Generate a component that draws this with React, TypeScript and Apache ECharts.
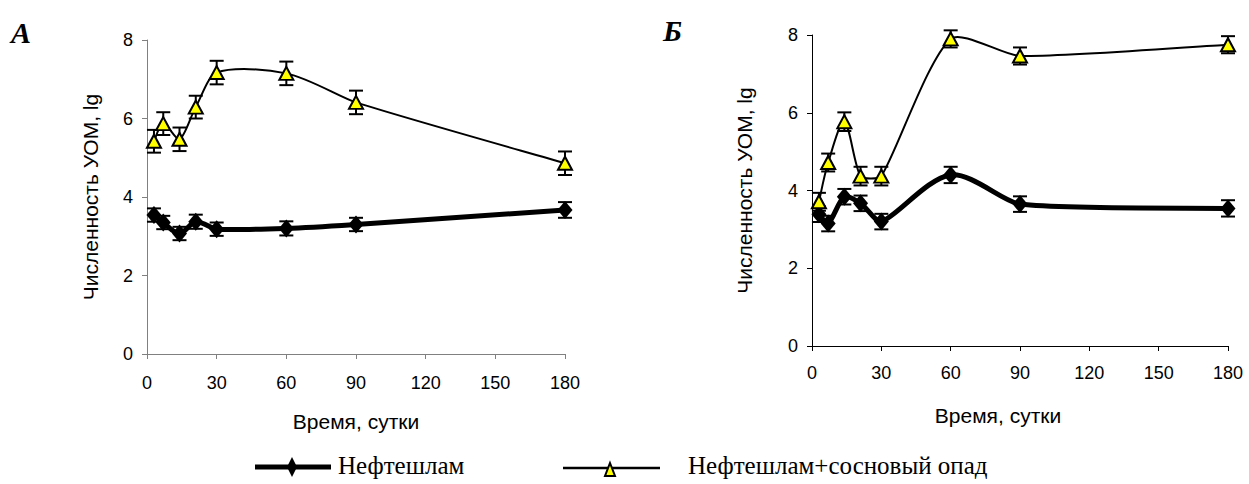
import React, { useEffect, useRef } from "react";
import * as echarts from "echarts";

// Sampling days
const days = [3, 7, 14, 21, 30, 60, 90, 180];
const xTicks = [0, 30, 60, 90, 120, 150, 180];
const yTicks = [0, 2, 4, 6, 8];

// Panel А
const oilA = [3.54, 3.35, 3.07, 3.37, 3.18, 3.2, 3.3, 3.67];
const oilAErr = [0.17, 0.17, 0.17, 0.18, 0.17, 0.18, 0.17, 0.2];
const pineA = [5.42, 5.87, 5.47, 6.29, 7.17, 7.15, 6.41, 4.86];
const pineAErr = [0.29, 0.29, 0.3, 0.29, 0.3, 0.3, 0.3, 0.3];

// Panel Б
const oilB = [3.39, 3.15, 3.84, 3.67, 3.2, 4.4, 3.65, 3.54];
const oilBErr = [0.2, 0.2, 0.2, 0.2, 0.2, 0.21, 0.2, 0.21];
const pineB = [3.71, 4.72, 5.77, 4.37, 4.37, 7.9, 7.46, 7.75];
const pineBErr = [0.23, 0.23, 0.24, 0.24, 0.24, 0.22, 0.22, 0.22];

const seriesNames = ["Нефтешлам", "Нефтешлам+сосновый опад"];
const yName = "Численность УОМ, lg";
const xName = "Время, сутки";
const panelLabels = ["А", "Б"];

const SANS = "Liberation Sans";
const SERIF = "Liberation Serif";

const points = (vals: number[]) => days.map((d, i) => [d, vals[i]]);
const errPoints = (vals: number[], errs: number[]) =>
  days.map((d, i) => [d, vals[i] - errs[i], vals[i] + errs[i]]);

const errorRender = (params: any, api: any) => {
  const x = api.value(0);
  const top = api.coord([x, api.value(2)]);
  const bot = api.coord([x, api.value(1)]);
  const w = 7;
  const style = { stroke: "#000", lineWidth: 2 };
  return {
    type: "group",
    children: [
      { type: "line", shape: { x1: top[0], y1: top[1], x2: bot[0], y2: bot[1] }, style },
      { type: "line", shape: { x1: top[0] - w, y1: top[1], x2: top[0] + w, y2: top[1] }, style },
      { type: "line", shape: { x1: bot[0] - w, y1: bot[1], x2: bot[0] + w, y2: bot[1] }, style },
    ],
  };
};

// Smoothed connector: one cubic segment per point pair, tangents from the
// neighbouring points (1/6 chord), shortened when the adjacent segment is shorter.
const smoothRender = (vals: number[], width: number) => (params: any, api: any) => {
  const i = params.dataIndex;
  const n = vals.length;
  if (i >= n - 1) return { type: "group", children: [] };
  const P = (k: number) => {
    const j = Math.max(0, Math.min(n - 1, k));
    return api.coord([days[j], vals[j]]);
  };
  const p0 = P(i - 1);
  const p1 = P(i);
  const p2 = P(i + 1);
  const p3 = P(i + 2);
  const dist = (a: number[], b: number[]) => Math.hypot(a[0] - b[0], a[1] - b[1]);
  const d01 = dist(p0, p1);
  const d12 = dist(p1, p2);
  const d23 = dist(p2, p3);
  const f = 1 / 6;
  const s1 = d01 > 0 ? Math.min(1, d12 / d01) : 1;
  const s2 = d23 > 0 ? Math.min(1, d12 / d23) : 1;
  const cp1 = [p1[0] + (p2[0] - p0[0]) * f * s1, p1[1] + (p2[1] - p0[1]) * f * s1];
  const cp2 = [p2[0] - (p3[0] - p1[0]) * f * s2, p2[1] - (p3[1] - p1[1]) * f * s2];
  return {
    type: "bezierCurve",
    shape: {
      x1: p1[0],
      y1: p1[1],
      cpx1: cp1[0],
      cpy1: cp1[1],
      cpx2: cp2[0],
      cpy2: cp2[1],
      x2: p2[0],
      y2: p2[1],
    },
    style: { stroke: "#000", lineWidth: width, fill: "none", lineCap: "round" },
  };
};

function axesFor(
  idx: number,
  axisColor: string,
  yGap: number,
  xGap: number,
  xMargin: number,
  xNameShift: number
) {
  const axisLine = { show: true, lineStyle: { color: axisColor, width: 1 } };
  const axisTick = { show: true, length: 5, lineStyle: { color: axisColor } };
  return {
    x: {
      type: "value",
      gridIndex: idx,
      min: xTicks[0],
      max: xTicks[xTicks.length - 1],
      interval: 30,
      axisLine,
      axisTick,
      splitLine: { show: false },
      axisLabel: { color: "#000", fontFamily: SANS, fontSize: 18, margin: xMargin },
      name: xName,
      nameLocation: "middle",
      nameGap: xGap,
      nameTextStyle: {
        color: "#000",
        fontFamily: SANS,
        fontSize: 21,
        padding: [0, xNameShift * 2, 0, 0],
      },
    },
    y: {
      type: "value",
      gridIndex: idx,
      min: yTicks[0],
      max: yTicks[yTicks.length - 1],
      interval: 2,
      axisLine,
      axisTick,
      splitLine: { show: false },
      axisLabel: { color: "#000", fontFamily: SANS, fontSize: 18, margin: 14 },
      name: yName,
      nameLocation: "middle",
      nameGap: yGap,
      nameTextStyle: { color: "#000", fontFamily: SANS, fontSize: 21 },
    },
  };
}

function panelSeries(idx: number, oil: number[], oilErr: number[], pine: number[], pineErr: number[]) {
  const base = { xAxisIndex: idx, yAxisIndex: idx, silent: true };
  return [
    { ...base, type: "custom", renderItem: errorRender, data: errPoints(oil, oilErr), encode: { x: 0, y: [1, 2] }, z: 1 },
    { ...base, type: "custom", renderItem: errorRender, data: errPoints(pine, pineErr), encode: { x: 0, y: [1, 2] }, z: 1 },
    { ...base, type: "custom", renderItem: smoothRender(oil, 5), data: points(oil), encode: { x: 0, y: 1 }, z: 2 },
    { ...base, type: "custom", renderItem: smoothRender(pine, 2), data: points(pine), encode: { x: 0, y: 1 }, z: 2 },
    {
      ...base,
      name: seriesNames[0],
      type: "scatter",
      data: points(oil),
      symbol: "diamond",
      symbolSize: [15, 18],
      itemStyle: { color: "#000", opacity: 1 },
      z: 3,
    },
    {
      ...base,
      name: seriesNames[1],
      type: "scatter",
      data: points(pine),
      symbol: "triangle",
      symbolSize: [14, 13],
      itemStyle: { color: "#ffff00", borderColor: "#000", borderWidth: 2, opacity: 1 },
      z: 4,
    },
  ];
}

export default function App() {
  const ref = useRef<HTMLDivElement>(null);

  useEffect(() => {
    if (!ref.current) return;
    const chart = echarts.init(ref.current, undefined, { renderer: "svg" });
    const a = axesFor(0, "#808080", 46, 57, 20, 0);
    const b = axesFor(1, "#000", 57, 59, 18, 22);

    chart.setOption({
      animation: false,
      backgroundColor: "#fff",
      grid: [
        { left: 147, right: 684, top: 40, bottom: 130 },
        { left: 812, right: 21, top: 35, bottom: 138 },
      ],
      xAxis: [a.x, b.x],
      yAxis: [a.y, b.y],
      series: [
        ...panelSeries(0, oilA, oilAErr, pineA, pineAErr),
        ...panelSeries(1, oilB, oilBErr, pineB, pineBErr),
      ],
      graphic: [
        {
          type: "text",
          left: 11,
          top: 17,
          style: { text: panelLabels[0], font: `italic bold 30px ${SERIF}`, fill: "#000" },
        },
        {
          type: "text",
          left: 663,
          top: 15,
          style: { text: panelLabels[1], font: `italic bold 30px ${SERIF}`, fill: "#000" },
        },
        // legend: thick line with diamond
        {
          type: "line",
          shape: { x1: 255, y1: 467, x2: 331, y2: 467 },
          style: { stroke: "#000", lineWidth: 5 },
        },
        {
          type: "polygon",
          shape: { points: [[292, 457], [297, 467], [292, 477], [287, 467]] },
          style: { fill: "#000" },
        },
        {
          type: "text",
          left: 338,
          top: 453,
          style: { text: seriesNames[0], font: `25px ${SERIF}`, fill: "#000" },
        },
        // legend: thin line with triangle
        {
          type: "line",
          shape: { x1: 563, y1: 468, x2: 660, y2: 468 },
          style: { stroke: "#000", lineWidth: 2.5 },
        },
        {
          type: "polygon",
          shape: { points: [[610, 463], [615, 476], [605, 476]] },
          style: { fill: "#ffff00", stroke: "#000", lineWidth: 2 },
        },
        {
          type: "text",
          left: 688,
          top: 453,
          style: { text: seriesNames[1], font: `25px ${SERIF}`, fill: "#000" },
        },
      ],
    });

    return () => chart.dispose();
  }, []);

  return (
    <div
      ref={ref}
      style={{ position: "absolute", left: 0, top: 0, width: 1249, height: 484 }}
    />
  );
}
